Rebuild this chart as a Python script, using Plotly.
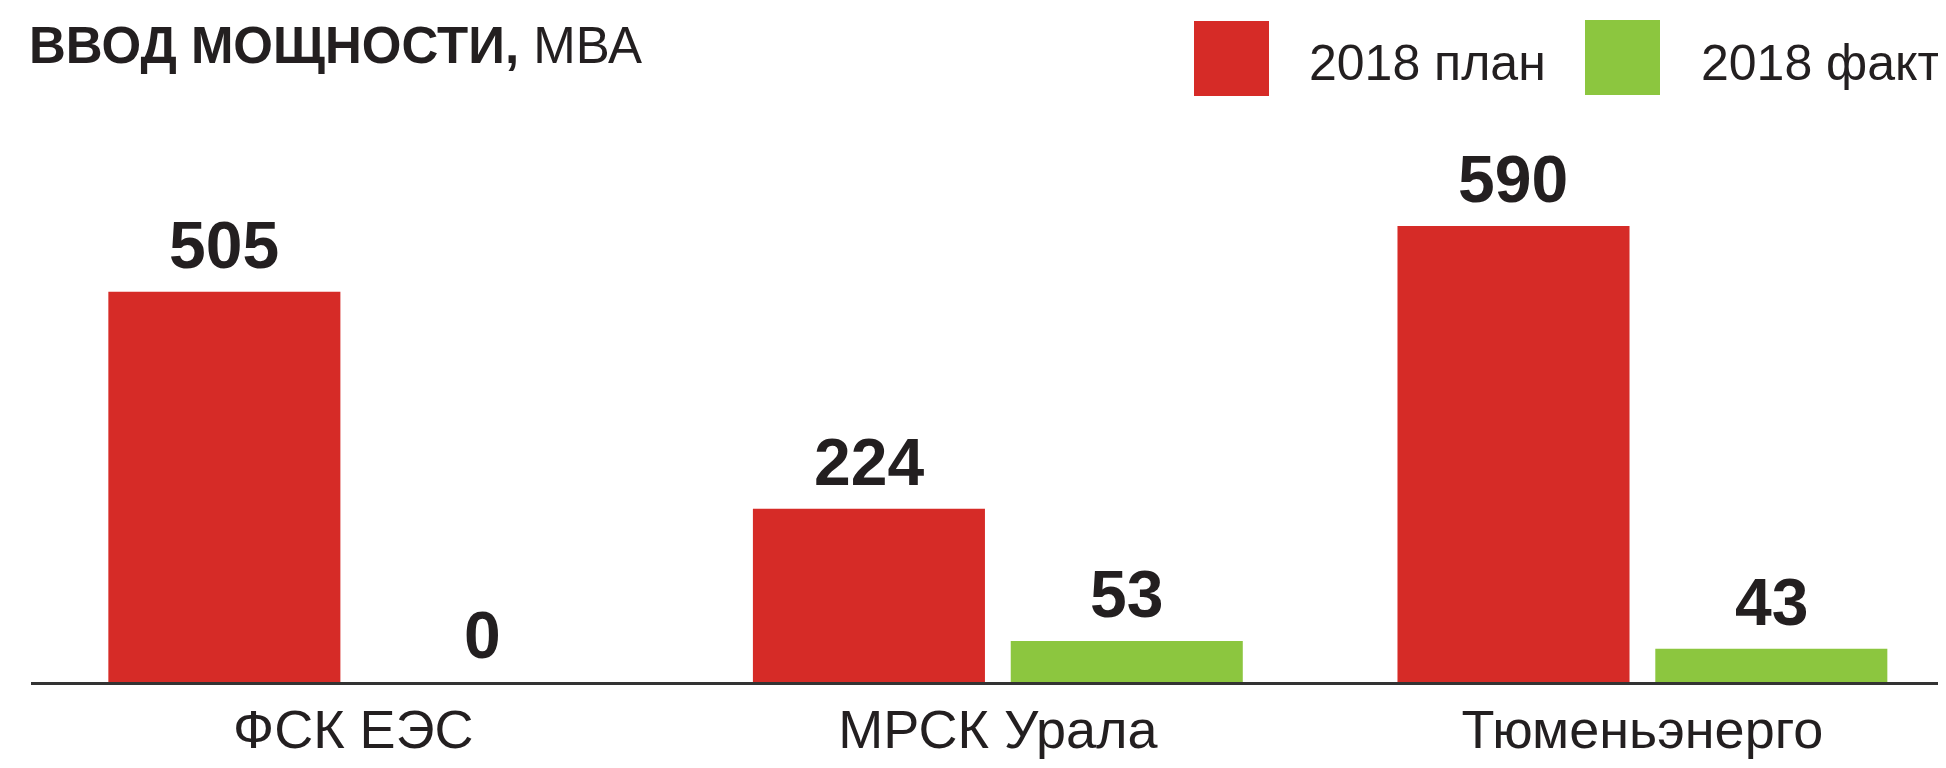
import plotly.graph_objects as go

# ---- data ----
categories = ["ФСК ЕЭС", "МРСК Урала", "Тюменьэнерго"]
series_names = ["2018 план", "2018 факт"]
plan_values = [505, 224, 590]
fact_values = [0, 53, 43]
title_bold = "ВВОД МОЩНОСТИ,"
title_unit = "МВА"

# ---- styles ----
RED = "#D62B27"
GREEN = "#8CC63F"
TEXT = "#231F20"
AXIS = "#333333"
FONT = "Liberation Sans, Arial, sans-serif"

# the page body has an 8px margin; lay the figure out in window coordinates
OFF = 8
W, H = 1946 - OFF, 768 - OFF
M_L, M_R, M_T, M_B = 31 - OFF, 0, 100 - OFF, 86
PW = W - M_L - M_R
PH = H - M_T - M_B

fig = go.Figure()
colors = [RED, GREEN]
for name, vals, col in zip(series_names, [plan_values, fact_values], colors):
    fig.add_trace(go.Bar(
        x=categories, y=vals, name=name,
        marker=dict(color=col, line=dict(width=0)),
        showlegend=False,
    ))

# value labels above bars
slot_shift = 129
for k, vals in enumerate([plan_values, fact_values]):
    shift = -slot_shift if k == 0 else slot_shift
    for c, v in zip(categories, vals):
        fig.add_annotation(
            x=c, y=v, xref="x", yref="y", text=f"<b>{v}</b>",
            showarrow=False, xanchor="center", yanchor="bottom",
            xshift=shift, yshift=8,
            font=dict(family=FONT, size=66, color=TEXT),
        )

# manual legend (positions given in window pixels)
def px_to_paper_x(px):
    return (px - OFF - M_L) / PW

def px_to_paper_y(py):
    return (H - M_B - (py - OFF)) / PH

legend_boxes = [(1194, 21), (1585, 20)]
legend_text_x = [1307, 1699]
for name, col, (bx, by), tx in zip(series_names, colors, legend_boxes, legend_text_x):
    fig.add_shape(
        type="rect", xref="paper", yref="paper",
        x0=px_to_paper_x(bx), x1=px_to_paper_x(bx + 75),
        y0=px_to_paper_y(by + 75), y1=px_to_paper_y(by),
        fillcolor=col, line=dict(width=0),
    )
    fig.add_annotation(
        x=px_to_paper_x(tx), y=px_to_paper_y(63), xref="paper", yref="paper",
        text=name, showarrow=False, xanchor="left", yanchor="middle",
        font=dict(family=FONT, size=50, color=TEXT),
    )

fig.update_layout(
    width=W, height=H,
    margin=dict(l=M_L, r=M_R, t=M_T, b=M_B, pad=0),
    paper_bgcolor="white", plot_bgcolor="white",
    barmode="group", bargap=0.2, bargroupgap=0.1,
    title=dict(
        text=f"<b>{title_bold}</b> {title_unit}",
        x=(29 - OFF) / W, xanchor="left", xref="container",
        y=1 - (45 - OFF) / H, yanchor="middle",
        font=dict(family=FONT, size=51, color=TEXT),
    ),
    xaxis=dict(
        range=[-0.5, 2.471], showgrid=False, zeroline=False,
        showline=True, linecolor=AXIS, linewidth=3,
        ticks="", tickfont=dict(family=FONT, size=54, color=TEXT),
        automargin=False, ticklabelstandoff=-2,
        fixedrange=True,
    ),
    yaxis=dict(
        range=[0, PH / 0.7729], visible=False, showgrid=False, zeroline=False,
        automargin=False, fixedrange=True,
    ),
)

fig.write_html("out.html")
